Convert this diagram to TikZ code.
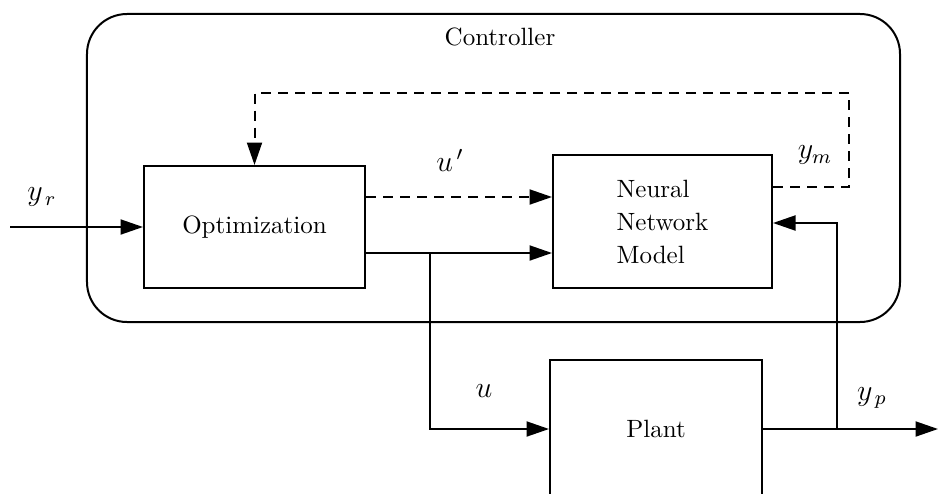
\documentclass[tikz,border=0pt]{standalone}
\usetikzlibrary{arrows.meta,calc}
\begin{document}
\begin{tikzpicture}[x=0.4pt,y=-0.4pt,
  line width=0.8pt,
  blk/.style={draw,rectangle,inner sep=0pt,font=\normalsize},
  arr/.style={-{Triangle[length=9pt,width=6pt]}},
  dsh/.style={dash pattern=on 4pt off 2.8pt},
  lbl/.style={inner sep=0pt,font=\large}]
\useasboundingbox (0,0) rectangle (938,493);
\clip (0,0) rectangle (938,493);
% controller container
\node (ctrl) [draw,rounded corners=16pt,minimum width=325.2pt,minimum height=123.2pt,inner sep=0pt] at (493.5,168) {};
\node (ctitle) [inner sep=0pt] at (500,37) {Controller};
% blocks
\node (opt) [blk,minimum width=88.4pt,minimum height=48.8pt] at (254.5,227) {Optimization};
\node (nn) [blk,minimum width=87.6pt,minimum height=53.2pt,align=left] at (662.5,221.5) {Neural\\[1.2pt]Network\\[1.2pt]Model};
\node (plant) [blk,minimum width=84.8pt,minimum height=55.2pt] at (656,429) {Plant};
% coordinates
\coordinate (yrin) at (10,227);
\coordinate (br) at (430,253);
\coordinate (out) at (938,429);
\coordinate (br2) at (837,429);
\coordinate (fb) at (849,93);
% connectors
\draw[arr] (yrin) -- (opt.west);
\draw[arr,dsh] ([yshift=12pt]opt.east) -- ([yshift=12pt]opt.east -| nn.west);
\draw[arr] ([yshift=-10.4pt]opt.east) -- ([yshift=-10.4pt]opt.east -| nn.west);
\draw[arr] (br) |- (plant.west);
\draw[arr] (plant.east) -- (out);
\draw[arr] (br2) |- ([yshift=-0.6pt]nn.east);
\draw[arr,dsh] ([yshift=13.8pt]nn.east) -| (fb) -| (opt.north);
% labels
\node (lyr) [lbl] at (42,197) {$y_{\,r}$};
\node (lup) [lbl] at (450,160) {$u^{\,\prime}$};
\node (lym) [lbl] at (815,155) {$y_{m}$};
\node (lu) [lbl] at (484,391) {$u$};
\node (lyp) [lbl] at (872,398) {$y_{\,p}$};
\end{tikzpicture}
\end{document}
